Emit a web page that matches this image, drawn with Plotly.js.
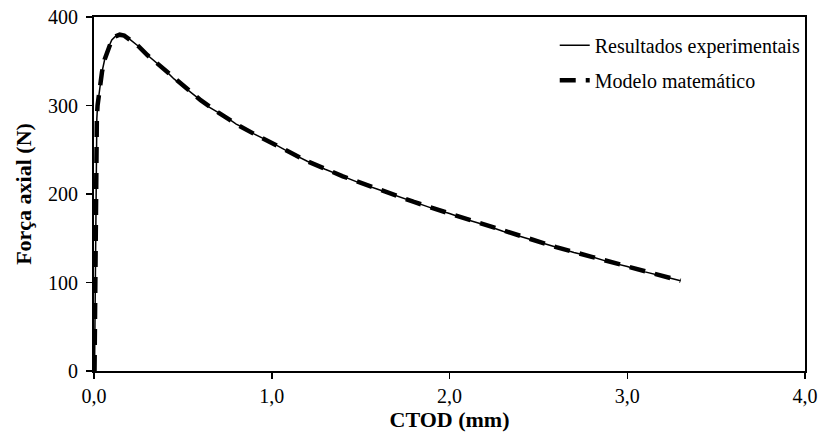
<!DOCTYPE html>
<html>
<head>
<meta charset="utf-8">
<script src="https://cdn.plot.ly/plotly-3.0.1.min.js"></script>
<style>html,body{margin:0;padding:0;background:#fff;}#chart{width:819px;height:436px;}</style>
</head>
<body>
<div id="chart"></div>
<script>
// Experimental results (CTOD in mm, axial force in N)
var expX = [0.003, 0.005, 0.007, 0.009, 0.012, 0.016, 0.02, 0.03, 0.045, 0.06, 0.08, 0.1, 0.12, 0.145, 0.17, 0.2, 0.25, 0.3, 0.35, 0.4, 0.45, 0.5, 0.55, 0.6, 0.65, 0.7, 0.75, 0.8, 0.85, 0.9, 0.95, 1.0, 1.1, 1.2, 1.3, 1.4, 1.5, 1.6, 1.7, 1.8, 1.9, 2.0, 2.1, 2.2, 2.3, 2.4, 2.5, 2.6, 2.7, 2.8, 2.9, 3.0, 3.1, 3.2, 3.3];
var expY = [0, 40, 110, 190, 250, 285, 300, 318, 338, 352, 365, 374, 378, 380, 379, 375, 367, 357, 349, 340, 330, 322, 313, 306, 298, 292, 286, 279, 274, 268, 263, 258, 247, 237, 228, 220, 212, 205, 198, 191, 184, 178, 171, 165, 158, 152, 146, 140, 134, 129, 123, 118, 112, 107, 102];
// Mathematical model
var modX = [0.003, 0.006, 0.009, 0.012, 0.016, 0.02, 0.03, 0.045, 0.06, 0.08, 0.1, 0.12, 0.145, 0.17, 0.2, 0.25, 0.3, 0.4, 0.5, 0.6, 0.7, 0.8, 0.9, 1.0, 1.2, 1.4, 1.6, 1.8, 2.0, 2.2, 2.4, 2.6, 2.8, 3.0, 3.2, 3.3];
var modY = [0, 80, 180, 250, 285, 300, 318, 338, 352, 365, 374, 378, 380, 379, 375, 367, 357, 340, 322, 306, 292, 279, 268, 258, 237, 220, 205, 191, 178, 165, 152, 140, 129, 118, 107, 102];
var xTicks = [0, 1, 2, 3, 4];
var xTickText = ['0,0', '1,0', '2,0', '3,0', '4,0'];
var yTicks = [0, 100, 200, 300, 400];

var serif = 'Liberation Serif, Times New Roman, serif';
var traces = [
  {x: expX, y: expY, type: 'scatter', mode: 'lines', name: 'Resultados experimentais',
   legendgroup: 'a', line: {color: '#000', width: 1.5}},
  {x: modX, y: modY, type: 'scatter', mode: 'lines', name: 'Modelo matemático',
   legendgroup: 'b', line: {color: '#000', width: 4.5, dash: '16px,10px'}}
];
var layout = {
  width: 819, height: 436,
  margin: {l: 94, r: 14, t: 17, b: 65},
  paper_bgcolor: '#fff', plot_bgcolor: '#fff',
  font: {family: serif, size: 20, color: '#000'},
  showlegend: true,
  legend: {x: 0.648, y: 0.975, xanchor: 'left', yanchor: 'top', bgcolor: 'rgba(0,0,0,0)',
           font: {family: serif, size: 20, color: '#000'}, traceorder: 'grouped', tracegroupgap: 6},
  xaxis: {range: [0, 4], tickvals: xTicks, ticktext: xTickText, ticks: 'outside', ticklen: 6,
          tickwidth: 1.5, tickcolor: '#000', showline: true, linecolor: '#000', linewidth: 2,
          mirror: true, showgrid: false, zeroline: false,
          title: {text: '<b>CTOD (mm)</b>', font: {family: serif, size: 22}, standoff: 0}},
  yaxis: {range: [0, 400], tickvals: yTicks, ticks: 'outside', ticklen: 6,
          tickwidth: 1.5, tickcolor: '#000', showline: true, linecolor: '#000', linewidth: 2,
          mirror: true, showgrid: false, zeroline: false, ticklabelstandoff: 4,
          title: {text: '<b>Força axial (N)</b>', font: {family: serif, size: 22}, standoff: 10}}
};
Plotly.newPlot('chart', traces, layout, {displayModeBar: false, staticPlot: true});
</script>
</body>
</html>
